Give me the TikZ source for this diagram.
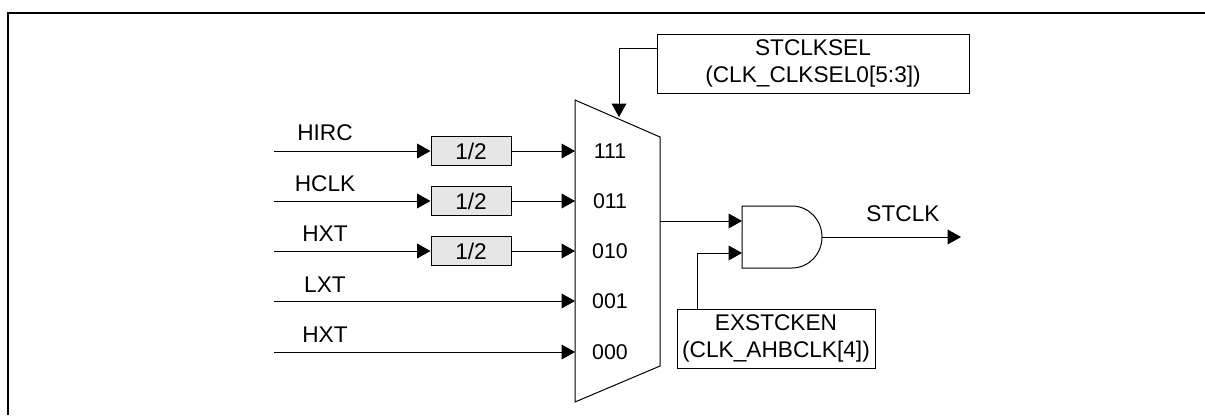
\documentclass[tikz,border=0pt]{standalone}
\usepackage{fontspec}
\setmainfont{Liberation Sans}
\definecolor{divgray}{RGB}{230,230,230}
\usetikzlibrary{arrows.meta,positioning,calc}
\tikzset{
  sigline/.style={line width=0.75pt,-{Triangle[length=10pt,width=11pt]}},
  plainline/.style={line width=0.75pt},
  siglabel/.style={font=\fontsize{17}{18}\selectfont,inner sep=0pt},
  muxlabel/.style={font=\fontsize{16}{18}\selectfont,inner sep=0pt},
  divbox/.style={draw,line width=0.75pt,fill=divgray,minimum width=60pt,minimum height=21.75pt,inner sep=0pt,font=\fontsize{17}{18}\selectfont},
  regbox/.style={draw,line width=0.75pt,align=center,inner sep=0pt,font=\fontsize{17}{20.5}\selectfont}
}
\begin{document}
\begin{tikzpicture}[x=0.75pt,y=-0.75pt]
  \useasboundingbox (0,0) rectangle (1205,415);
  % Page frame
  \draw[line width=1.5pt] (8,415) -- (8,13) -- (1205,13);
  % Mux body
  \draw[plainline,line join=miter] (575,100) -- (660,137) -- (660,366) -- (575,402) -- cycle;
  \coordinate (muxsel) at (619,117);
  \coordinate (muxout) at (660,221);
  % Inputs
  \foreach \y/\t/\sel/\n/\ly in {
    151/HIRC/111/a/133,
    201/HCLK/011/b/184,
    251/HXT/010/c/234,
    301/LXT/001/d/285,
    352/HXT/000/e/335
  } {
    \coordinate (start\n) at (274,\y);
    \coordinate (in\n) at (575,\y);
    \node[siglabel] (lbl\n) at (325,\ly) {\t};
    \node[muxlabel] (sel\n) at (610,\y) {\sel};
  }
  % Dividers
  \foreach \n in {a,b,c} {
    \node[divbox] (div\n) at (471,0 |- in\n) {1/2};
    \draw[sigline] (start\n) -- (div\n);
    \draw[sigline] (div\n) -- (in\n);
  }
  \draw[sigline] (startd) -- (ind);
  \draw[sigline] (starte) -- (ine);
  % Select register
  \node[regbox,minimum width=234pt,minimum height=44.25pt] (stclksel) at (813,63.5) {STCLKSEL\\(CLK\_CLKSEL0[5:3])};
  \draw[sigline] ([yshift=10.9pt]stclksel.west) -| (muxsel);
  % AND gate
  \draw[plainline] (742,206) -- (792,206) arc[start angle=90,end angle=-90,x radius=30,y radius=-31] -- (742,268) -- cycle;
  \coordinate (gatea) at (742,221);
  \coordinate (gateb) at (742,253);
  \coordinate (gateout) at (822,237);
  \coordinate (outend) at (961,237);
  \draw[sigline] (muxout) -- (gatea);
  \node[regbox,minimum width=148.5pt,minimum height=44.25pt] (exstcken) at (776,338.5) {EXSTCKEN\\(CLK\_AHBCLK[4])};
  \draw[sigline] ([xshift=-59.25pt]exstcken.north) |- (gateb);
  \draw[sigline] (gateout) -- (outend);
  \node[siglabel] (stclk) at (903,214) {STCLK};
\end{tikzpicture}
\end{document}
